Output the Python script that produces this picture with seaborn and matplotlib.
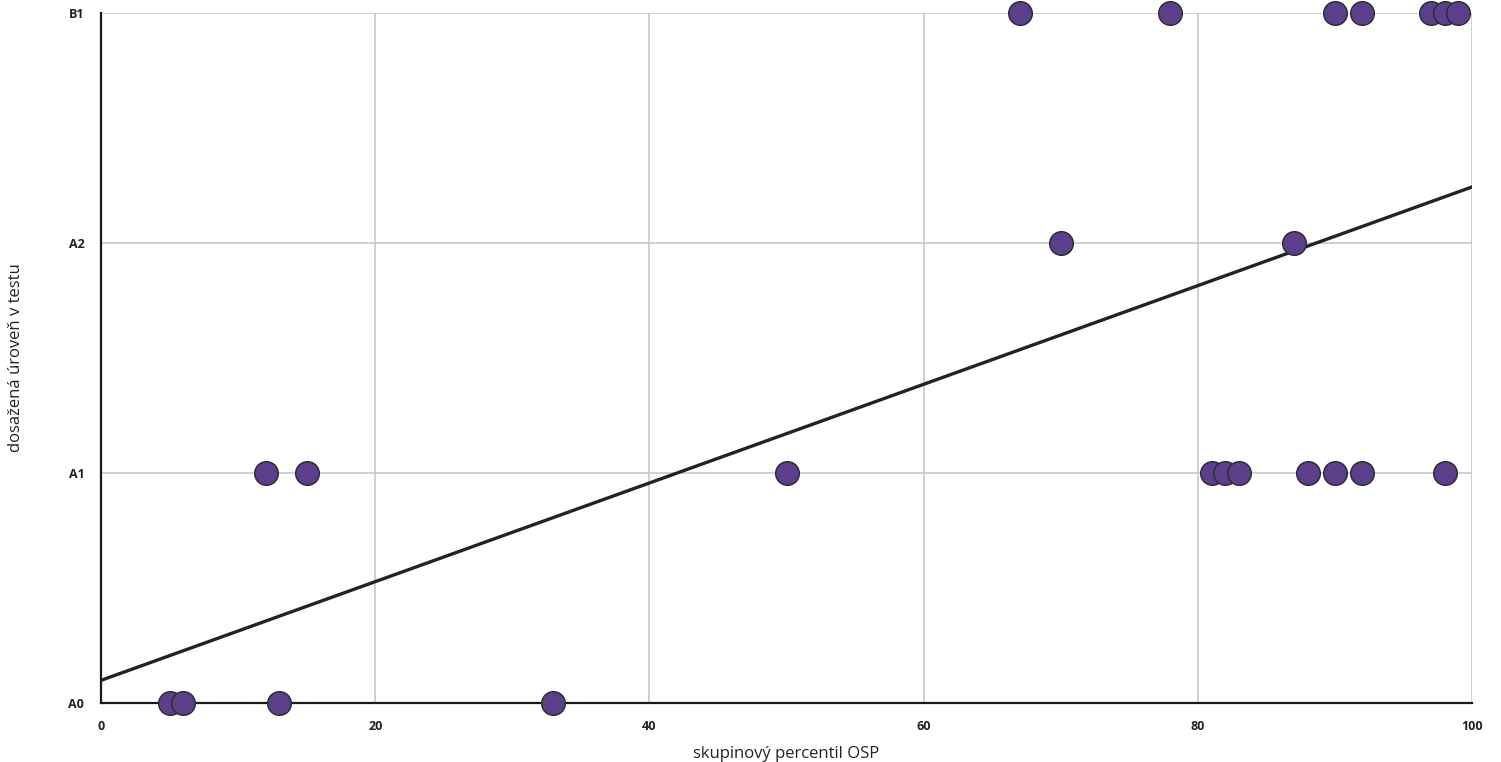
import matplotlib
matplotlib.use("Agg")
import matplotlib.pyplot as plt
import seaborn as sns
import pandas as pd

# =============================
# DATA
# =============================
levels = ["A0", "A1", "A2", "B1"]

a0_pct = [5, 6, 13, 33]
a1_pct = [12, 15, 50, 81, 82, 83, 88, 90, 92, 98]
a2_pct = [70, 87]
b1_pct = [67, 78, 90, 92, 97, 98, 99]

x_ticks = [0, 20, 40, 60, 80, 100]

rows = []
for lvl, vals in zip(levels, [a0_pct, a1_pct, a2_pct, b1_pct]):
    for v in vals:
        rows.append({"percentil": v, "uroven": levels.index(lvl)})
df = pd.DataFrame(rows)

# =============================
# PLOT
# =============================
sns.set_style("white")
plt.rcParams["font.family"] = ["Open Sans", "DejaVu Sans"]

fig = plt.figure(figsize=(15.01, 7.62), dpi=100)
ax = fig.add_axes([0.0673, 0.0774, 0.9134, 0.9056])

ax.set_xlim(0, 100)
ax.set_ylim(0, 3)

sns.regplot(
    data=df, x="percentil", y="uroven", ax=ax,
    ci=None, truncate=False,
    scatter_kws=dict(s=290, color="#5b3f8a", edgecolors="#2a2a2a",
                     linewidths=1.0, alpha=1, clip_on=False, zorder=4),
    line_kws=dict(color="#222222", linewidth=2.4, zorder=3),
)

ax.set_xticks(x_ticks)
ax.set_xticklabels([str(t) for t in x_ticks], fontsize=9, fontweight="bold", color="#222222")
ax.set_yticks(range(len(levels)))
ax.set_yticklabels(levels, fontsize=9, fontweight="bold", color="#222222")

ax.grid(True, color="#c8c8c8", linewidth=1.2, zorder=0)
ax.set_axisbelow(True)

for side in ["top", "right"]:
    ax.spines[side].set_visible(False)
for side in ["left", "bottom"]:
    ax.spines[side].set_color("#1a1a1a")
    ax.spines[side].set_linewidth(1.6)
    ax.spines[side].set_zorder(2)

ax.tick_params(axis="both", direction="out", length=8, width=1.2, color="#c8c8c8", pad=4)

ax.set_xlabel("skupinový percentil OSP", fontsize=12, color="#222222")
ax.set_ylabel("dosažená úroveň v testu", fontsize=12, color="#222222")
ax.xaxis.set_label_coords(0.5, -0.063)
ax.yaxis.set_label_coords(-0.0565, 0.5)

fig.savefig("out.png", dpi=100)
plt.close(fig)
